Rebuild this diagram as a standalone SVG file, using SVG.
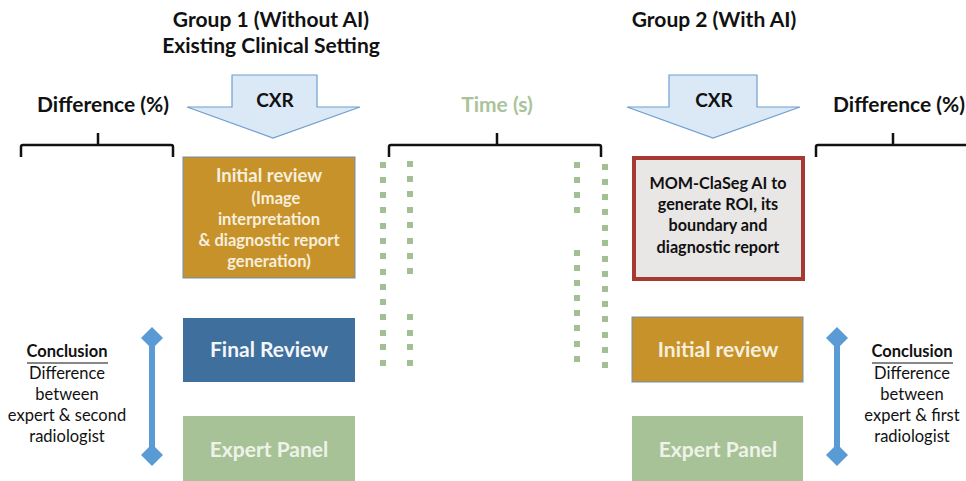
<svg xmlns="http://www.w3.org/2000/svg" width="966" height="481" viewBox="0 0 966 481">
<style>
text{font-family:Lato,"Open Sans","Liberation Sans",sans-serif;text-anchor:middle}
.t{font-weight:bold;font-size:21px;fill:#111}
.h{font-weight:bold;font-size:21px;fill:#111}
.cxr{font-weight:bold;font-size:19px;fill:#111}
.br{fill:none;stroke:#111;stroke-width:2.5}
.arr{fill:#dbe8f5;stroke:#6f9fcf;stroke-width:1.2}
.bx{font-weight:bold;font-size:16.5px;fill:#f6efdd}
.bx1{font-weight:bold;font-size:18.5px;fill:#f6efdd}
.ai{font-weight:bold;font-size:16.2px;fill:#111}
.big{font-weight:bold;font-size:21px}
.c{font-size:16.5px;fill:#111}
.cb{font-size:16.5px;font-weight:bold;fill:#111}
.dot{fill:#a3c094}
.da{stroke:#5b9bd5;stroke-width:6}
.dh{fill:#5b9bd5}
</style>
<rect width="966" height="481" fill="#fff"/>
<g id="titles">
<text class="t" x="271" y="27">Group 1 (Without AI)</text>
<text class="t" x="271" y="53">Existing Clinical Setting</text>
<text class="t" x="714" y="27">Group 2 (With AI)</text>
</g>
<g id="cxr1">
<polygon class="arr" points="232,75 317,75 317,107 360,107 273,138 187,107 232,107"/>
<text class="cxr" x="275" y="107">CXR</text>
</g>
<g id="cxr2">
<polygon class="arr" points="669,75 757,75 757,107 800,107 713,138 627,107 669,107"/>
<text class="cxr" x="714" y="107">CXR</text>
</g>
<g id="diff1">
<text class="h" x="103" y="112">Difference (%)</text>
<path class="br" d="M21,157 V147 Q21,145 23,145 H171 Q173,145 173,147 V157 M98,145 V133"/>
</g>
<g id="diff2">
<text class="h" x="899" y="112">Difference (%)</text>
<path class="br" d="M816,157 V147 Q816,145 818,145 H970 M893,145 V133"/>
</g>
<g id="time">
<text class="h" x="497" y="112" style="fill:#a9c49a">Time (s)</text>
<path class="br" d="M389,157 V147 Q389,145 391,145 H599 Q601,145 601,147 V157 M497,145 V133"/>
</g>
<g id="init1">
<rect x="183" y="157" width="172" height="121" fill="#c8922a" stroke="#6f8fb0" stroke-width="1"/>
<text class="bx1" x="269" y="182">Initial review</text>
<text class="bx" x="276" y="204">(Image</text>
<text class="bx" x="269" y="225">interpretation</text>
<text class="bx" x="269" y="246">&amp; diagnostic report</text>
<text class="bx" x="269" y="267">generation)</text>
</g>
<g id="final1">
<rect x="183" y="318" width="172" height="64" fill="#3f6f9d"/>
<text class="big" x="269" y="357" fill="#f4f6fa">Final Review</text>
</g>
<g id="expert1">
<rect x="183" y="416" width="172" height="65" fill="#a8c297"/>
<text class="big" x="269" y="457" fill="#eef3ea">Expert Panel</text>
</g>
<g id="ai">
<rect x="634" y="158" width="169" height="121" fill="#e9e6e6" stroke="#a63a33" stroke-width="4"/>
<text class="ai" x="718" y="189">MOM-ClaSeg AI to</text>
<text class="ai" x="718" y="210">generate ROI, its</text>
<text class="ai" x="718" y="231">boundary and</text>
<text class="ai" x="718" y="253">diagnostic report</text>
</g>
<g id="init2">
<rect x="632" y="317" width="171" height="65" fill="#c8922a" stroke="#6f8fb0" stroke-width="1"/>
<text class="big" x="718" y="357" fill="#f6efdd">Initial review</text>
</g>
<g id="expert2">
<rect x="632" y="416" width="171" height="65" fill="#a8c297"/>
<text class="big" x="718" y="457" fill="#eef3ea">Expert Panel</text>
</g>
<g id="concl1">
<text class="cb" x="67" y="357">Conclusion</text>
<line x1="27" y1="363" x2="108" y2="363" stroke="#111" stroke-width="1.2"/>
<text class="c" x="67" y="379">Difference</text>
<text class="c" x="67" y="400">between</text>
<text class="c" x="67" y="421">expert &amp; second</text>
<text class="c" x="67" y="442">radiologist</text>
</g>
<g id="concl2">
<text class="cb" x="912" y="357">Conclusion</text>
<line x1="872" y1="363" x2="953" y2="363" stroke="#111" stroke-width="1.2"/>
<text class="c" x="912" y="379">Difference</text>
<text class="c" x="912" y="400">between</text>
<text class="c" x="912" y="421">expert &amp; first</text>
<text class="c" x="912" y="442">radiologist</text>
</g>
<g id="connectors">
<line class="da" x1="152" y1="335" x2="152" y2="458"/>
<polygon class="dh" points="152,327 163,338 152,349 141,338"/>
<polygon class="dh" points="152,444 163,455 152,466 141,455"/>
<line class="da" x1="837" y1="335" x2="837" y2="458"/>
<polygon class="dh" points="837,327 848,338 837,349 826,338"/>
<polygon class="dh" points="837,444 848,455 837,466 826,455"/>
<g class="dot">
<rect x="380" y="162" width="6" height="6"/><rect x="380" y="177" width="6" height="6"/><rect x="380" y="192" width="6" height="6"/><rect x="380" y="207" width="6" height="6"/><rect x="380" y="223" width="6" height="6"/><rect x="380" y="238" width="6" height="6"/><rect x="380" y="253" width="6" height="6"/><rect x="380" y="269" width="6" height="6"/><rect x="380" y="284" width="6" height="6"/><rect x="380" y="299" width="6" height="6"/><rect x="380" y="314" width="6" height="6"/><rect x="380" y="330" width="6" height="6"/><rect x="380" y="344" width="6" height="6"/><rect x="380" y="360" width="6" height="6"/>
<rect x="407" y="161" width="6" height="6"/><rect x="407" y="176" width="6" height="6"/><rect x="407" y="191" width="6" height="6"/><rect x="407" y="207" width="6" height="6"/><rect x="407" y="222" width="6" height="6"/><rect x="407" y="238" width="6" height="6"/><rect x="407" y="253" width="6" height="6"/><rect x="407" y="268" width="6" height="6"/>
<rect x="407" y="314" width="6" height="6"/><rect x="407" y="330" width="6" height="6"/><rect x="407" y="344" width="6" height="6"/><rect x="407" y="360" width="6" height="6"/>
<rect x="574" y="162" width="6" height="6"/><rect x="574" y="177" width="6" height="6"/><rect x="574" y="192" width="6" height="6"/><rect x="574" y="207" width="6" height="6"/>
<rect x="574" y="250" width="6" height="6"/><rect x="574" y="265" width="6" height="6"/><rect x="574" y="280" width="6" height="6"/><rect x="574" y="295" width="6" height="6"/><rect x="574" y="310" width="6" height="6"/><rect x="574" y="325" width="6" height="6"/><rect x="574" y="341" width="6" height="6"/><rect x="574" y="356" width="6" height="6"/>
<rect x="602" y="164" width="6" height="6"/><rect x="602" y="179" width="6" height="6"/><rect x="602" y="194" width="6" height="6"/><rect x="602" y="209" width="6" height="6"/><rect x="602" y="225" width="6" height="6"/><rect x="602" y="240" width="6" height="6"/><rect x="602" y="256" width="6" height="6"/><rect x="602" y="271" width="6" height="6"/><rect x="602" y="286" width="6" height="6"/><rect x="602" y="301" width="6" height="6"/><rect x="602" y="316" width="6" height="6"/><rect x="602" y="332" width="6" height="6"/><rect x="602" y="347" width="6" height="6"/><rect x="602" y="362" width="6" height="6"/>
</g>
</g>
</svg>
